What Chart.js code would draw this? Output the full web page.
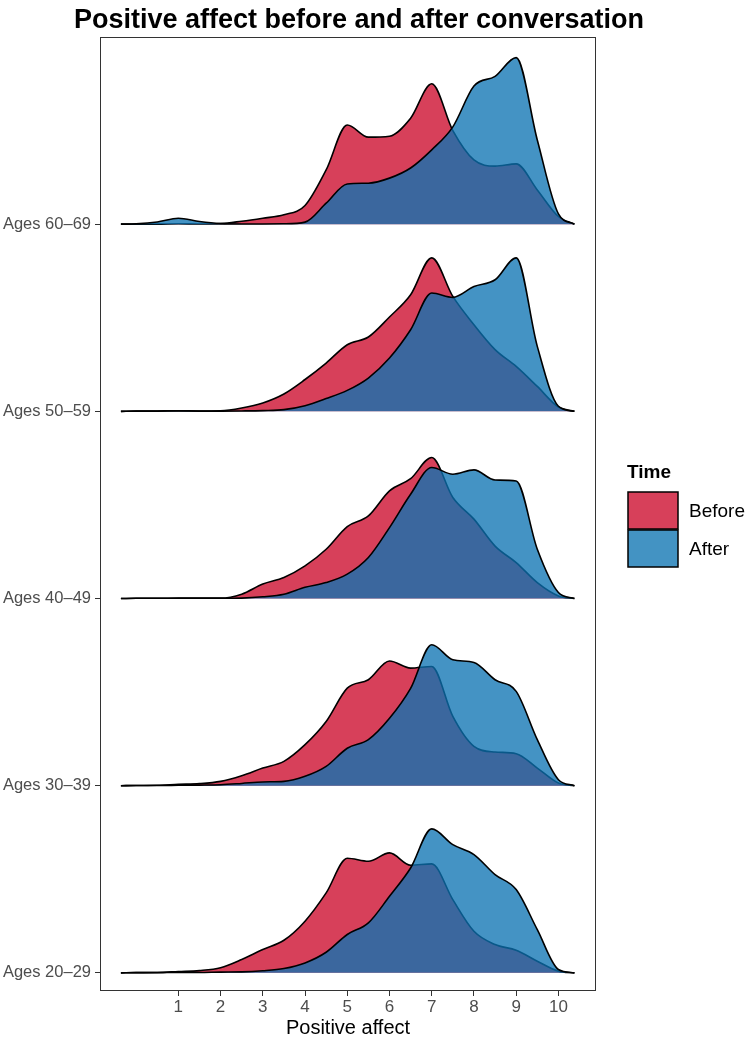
<!DOCTYPE html>
<html>
<head>
<meta charset="utf-8">
<title>Positive affect before and after conversation</title>
<script src="https://cdn.jsdelivr.net/npm/chart.js@4.4.1/dist/chart.umd.min.js"></script>
<style>
  html, body { margin: 0; padding: 0; background: #fff; }
  #wrap { width: 750px; height: 1040px; }
</style>
</head>
<body>
<div id="wrap"><canvas id="ridgeChart" width="750" height="1040"></canvas></div>
<script>
// CHART DATA
const TITLE = 'Positive affect before and after conversation';
const X_TITLE = 'Positive affect';
const LEGEND_TITLE = 'Time';
const timeLabels = ['Before', 'After'];

const ageGroups = ['Ages 20–29', 'Ages 30–39', 'Ages 40–49', 'Ages 50–59', 'Ages 60–69'];
const xTicks = [1, 2, 3, 4, 5, 6, 7, 8, 9, 10];

// score points where the density heights were read
const scoreGrid = [-0.36, 0, 0.5, 1, 1.5, 2, 2.5, 3, 3.5, 4, 4.5, 5, 5.5, 6, 6.5, 7, 7.5, 8, 8.5, 9, 9.5, 10, 10.38];

// density heights (in ridge units) per age group
const before20 = [0, 0.001, 0.002, 0.007, 0.012, 0.027, 0.071, 0.125, 0.174, 0.276, 0.427, 0.612, 0.596, 0.641, 0.575, 0.582, 0.391, 0.222, 0.151, 0.121, 0.062, 0.009, 0];
const after20  = [0, 0.001, 0.001, 0.002, 0.002, 0.004, 0.005, 0.011, 0.023, 0.053, 0.11, 0.205, 0.267, 0.409, 0.56, 0.769, 0.685, 0.632, 0.525, 0.445, 0.231, 0.018, 0];

const before30 = [0, 0.001, 0.002, 0.007, 0.011, 0.023, 0.053, 0.094, 0.13, 0.219, 0.343, 0.521, 0.566, 0.666, 0.628, 0.637, 0.37, 0.21, 0.18, 0.171, 0.094, 0.014, 0];
const after30  = [0, 0.001, 0.001, 0.002, 0.003, 0.005, 0.012, 0.02, 0.023, 0.05, 0.103, 0.20, 0.246, 0.36, 0.52, 0.753, 0.673, 0.658, 0.566, 0.504, 0.246, 0.032, 0];

const before40 = [0, 0.001, 0.001, 0.002, 0.002, 0.002, 0.023, 0.077, 0.112, 0.174, 0.263, 0.384, 0.441, 0.575, 0.64, 0.753, 0.54, 0.424, 0.28, 0.192, 0.085, 0.014, 0];
const after40  = [0, 0.001, 0.001, 0.001, 0.001, 0.001, 0.002, 0.009, 0.023, 0.06, 0.085, 0.13, 0.219, 0.379, 0.557, 0.70, 0.664, 0.687, 0.633, 0.628, 0.263, 0.032, 0];

const before50 = [0, 0.001, 0.002, 0.003, 0.002, 0.003, 0.018, 0.045, 0.093, 0.17, 0.258, 0.356, 0.397, 0.504, 0.623, 0.82, 0.614, 0.463, 0.33, 0.24, 0.133, 0.023, 0];
const after50  = [0, 0.001, 0.001, 0.002, 0.001, 0.001, 0.002, 0.004, 0.009, 0.03, 0.068, 0.112, 0.178, 0.285, 0.436, 0.632, 0.609, 0.667, 0.703, 0.82, 0.347, 0.027, 0];

const before60 = [0, 0, 0, 0.002, 0.001, 0.003, 0.016, 0.032, 0.05, 0.10, 0.29, 0.53, 0.465, 0.47, 0.566, 0.75, 0.50, 0.343, 0.31, 0.322, 0.183, 0.041, 0];
const after60  = [0, 0.002, 0.012, 0.032, 0.014, 0.003, 0.001, 0.001, 0.002, 0.011, 0.112, 0.215, 0.219, 0.246, 0.30, 0.397, 0.52, 0.738, 0.79, 0.89, 0.45, 0.055, 0];

const beforeSeries = [before20, before30, before40, before50, before60];
const afterSeries = [after20, after30, after40, after50, after60];

// STYLE
const FONT = '"Liberation Sans", Arial, Helvetica, sans-serif';
const RED = '#D7405A';
const BLUE_FILL = 'rgba(12, 114, 178, 0.77)';
const BLUE_KEY = '#4393C3';
const AXIS_GREY = '#333333';
const LABEL_GREY = '#4D4D4D';

// BUILD DATASETS
function ridgePoints(heights, baseline) {
    return scoreGrid.map((x, i) => ({ x: x, y: baseline + heights[i] }));
}

function buildDatasets() {
    const sets = [];
    // first dataset is drawn top-most, so lower ridges and "After" come first
    ageGroups.forEach((group, g) => {
        const base = g + 1;
        sets.push({
            label: group + ' After',
            data: ridgePoints(afterSeries[g], base),
            backgroundColor: BLUE_FILL,
            borderColor: '#000',
            borderWidth: 1.6,
            fill: { value: base },
            pointRadius: 0,
            cubicInterpolationMode: 'monotone'
        });
        sets.push({
            label: group + ' Before',
            data: ridgePoints(beforeSeries[g], base),
            backgroundColor: RED,
            borderColor: '#000',
            borderWidth: 1.6,
            fill: { value: base },
            pointRadius: 0,
            cubicInterpolationMode: 'monotone'
        });
    });
    return sets;
}

// border, title and legend
const panelExtras = {
    id: 'panelExtras',
    afterDraw(chart) {
        const ctx = chart.ctx;
        const a = chart.chartArea;
        ctx.save();

        ctx.strokeStyle = AXIS_GREY;
        ctx.lineWidth = 1;
        ctx.strokeRect(a.left + 0.5, a.top + 0.5, a.right - a.left - 1, a.bottom - a.top - 1);

        ctx.fillStyle = '#000';
        ctx.font = 'bold 27px ' + FONT;
        ctx.textAlign = 'center';
        ctx.textBaseline = 'alphabetic';
        ctx.fillText(TITLE, 359, 28);

        // legend
        ctx.textAlign = 'left';
        ctx.font = 'bold 19px ' + FONT;
        ctx.fillText(LEGEND_TITLE, 627, 478);

        const keyColors = [RED, BLUE_KEY];
        ctx.font = '19px ' + FONT;
        ctx.textBaseline = 'middle';
        timeLabels.forEach((lbl, i) => {
            const top = 492 + i * 38;
            ctx.fillStyle = keyColors[i];
            ctx.fillRect(628, top, 50, 37);
            ctx.strokeStyle = '#000';
            ctx.lineWidth = 1.5;
            ctx.strokeRect(628, top, 50, 37);
            ctx.fillStyle = '#000';
            ctx.fillText(lbl, 689, top + 20);
        });

        ctx.restore();
    }
};

document.addEventListener('DOMContentLoaded', function() {
    const ctx = document.getElementById('ridgeChart').getContext('2d');
    new Chart(ctx, {
        type: 'line',
        data: { datasets: buildDatasets() },
        options: {
            responsive: false,
            animation: false,
            layout: { padding: { left: 0, right: 154, top: 37, bottom: 0 } },
            plugins: {
                legend: { display: false },
                title: { display: false },
                tooltip: { enabled: false }
            },
            scales: {
                x: {
                    type: 'linear',
                    min: -0.855,
                    max: 10.89,
                    afterBuildTicks: scale => { scale.ticks = xTicks.map(v => ({ value: v })); },
                    afterFit: scale => { scale.height = 49; },
                    grid: { display: true, drawOnChartArea: false, drawTicks: true, tickLength: 5, color: AXIS_GREY },
                    border: { display: false },
                    ticks: { color: LABEL_GREY, font: { family: FONT, size: 17 }, padding: 1, maxRotation: 0, autoSkip: false },
                    title: { display: true, text: X_TITLE, color: '#000', font: { family: FONT, size: 20 }, padding: { top: 0, bottom: 0 } }
                },
                y: {
                    type: 'linear',
                    min: 0.903,
                    max: 6.0,
                    afterBuildTicks: scale => { scale.ticks = ageGroups.map((g, i) => ({ value: i + 1 })); },
                    afterFit: scale => { scale.width = 100; },
                    grid: { display: true, drawOnChartArea: false, drawTicks: true, tickLength: 5, color: AXIS_GREY },
                    border: { display: false },
                    ticks: {
                        color: LABEL_GREY,
                        font: { family: FONT, size: 16.5 },
                        padding: 4,
                        autoSkip: false,
                        callback: value => ageGroups[Math.round(value) - 1]
                    }
                }
            }
        },
        plugins: [panelExtras]
    });
});
</script>
</body>
</html>
